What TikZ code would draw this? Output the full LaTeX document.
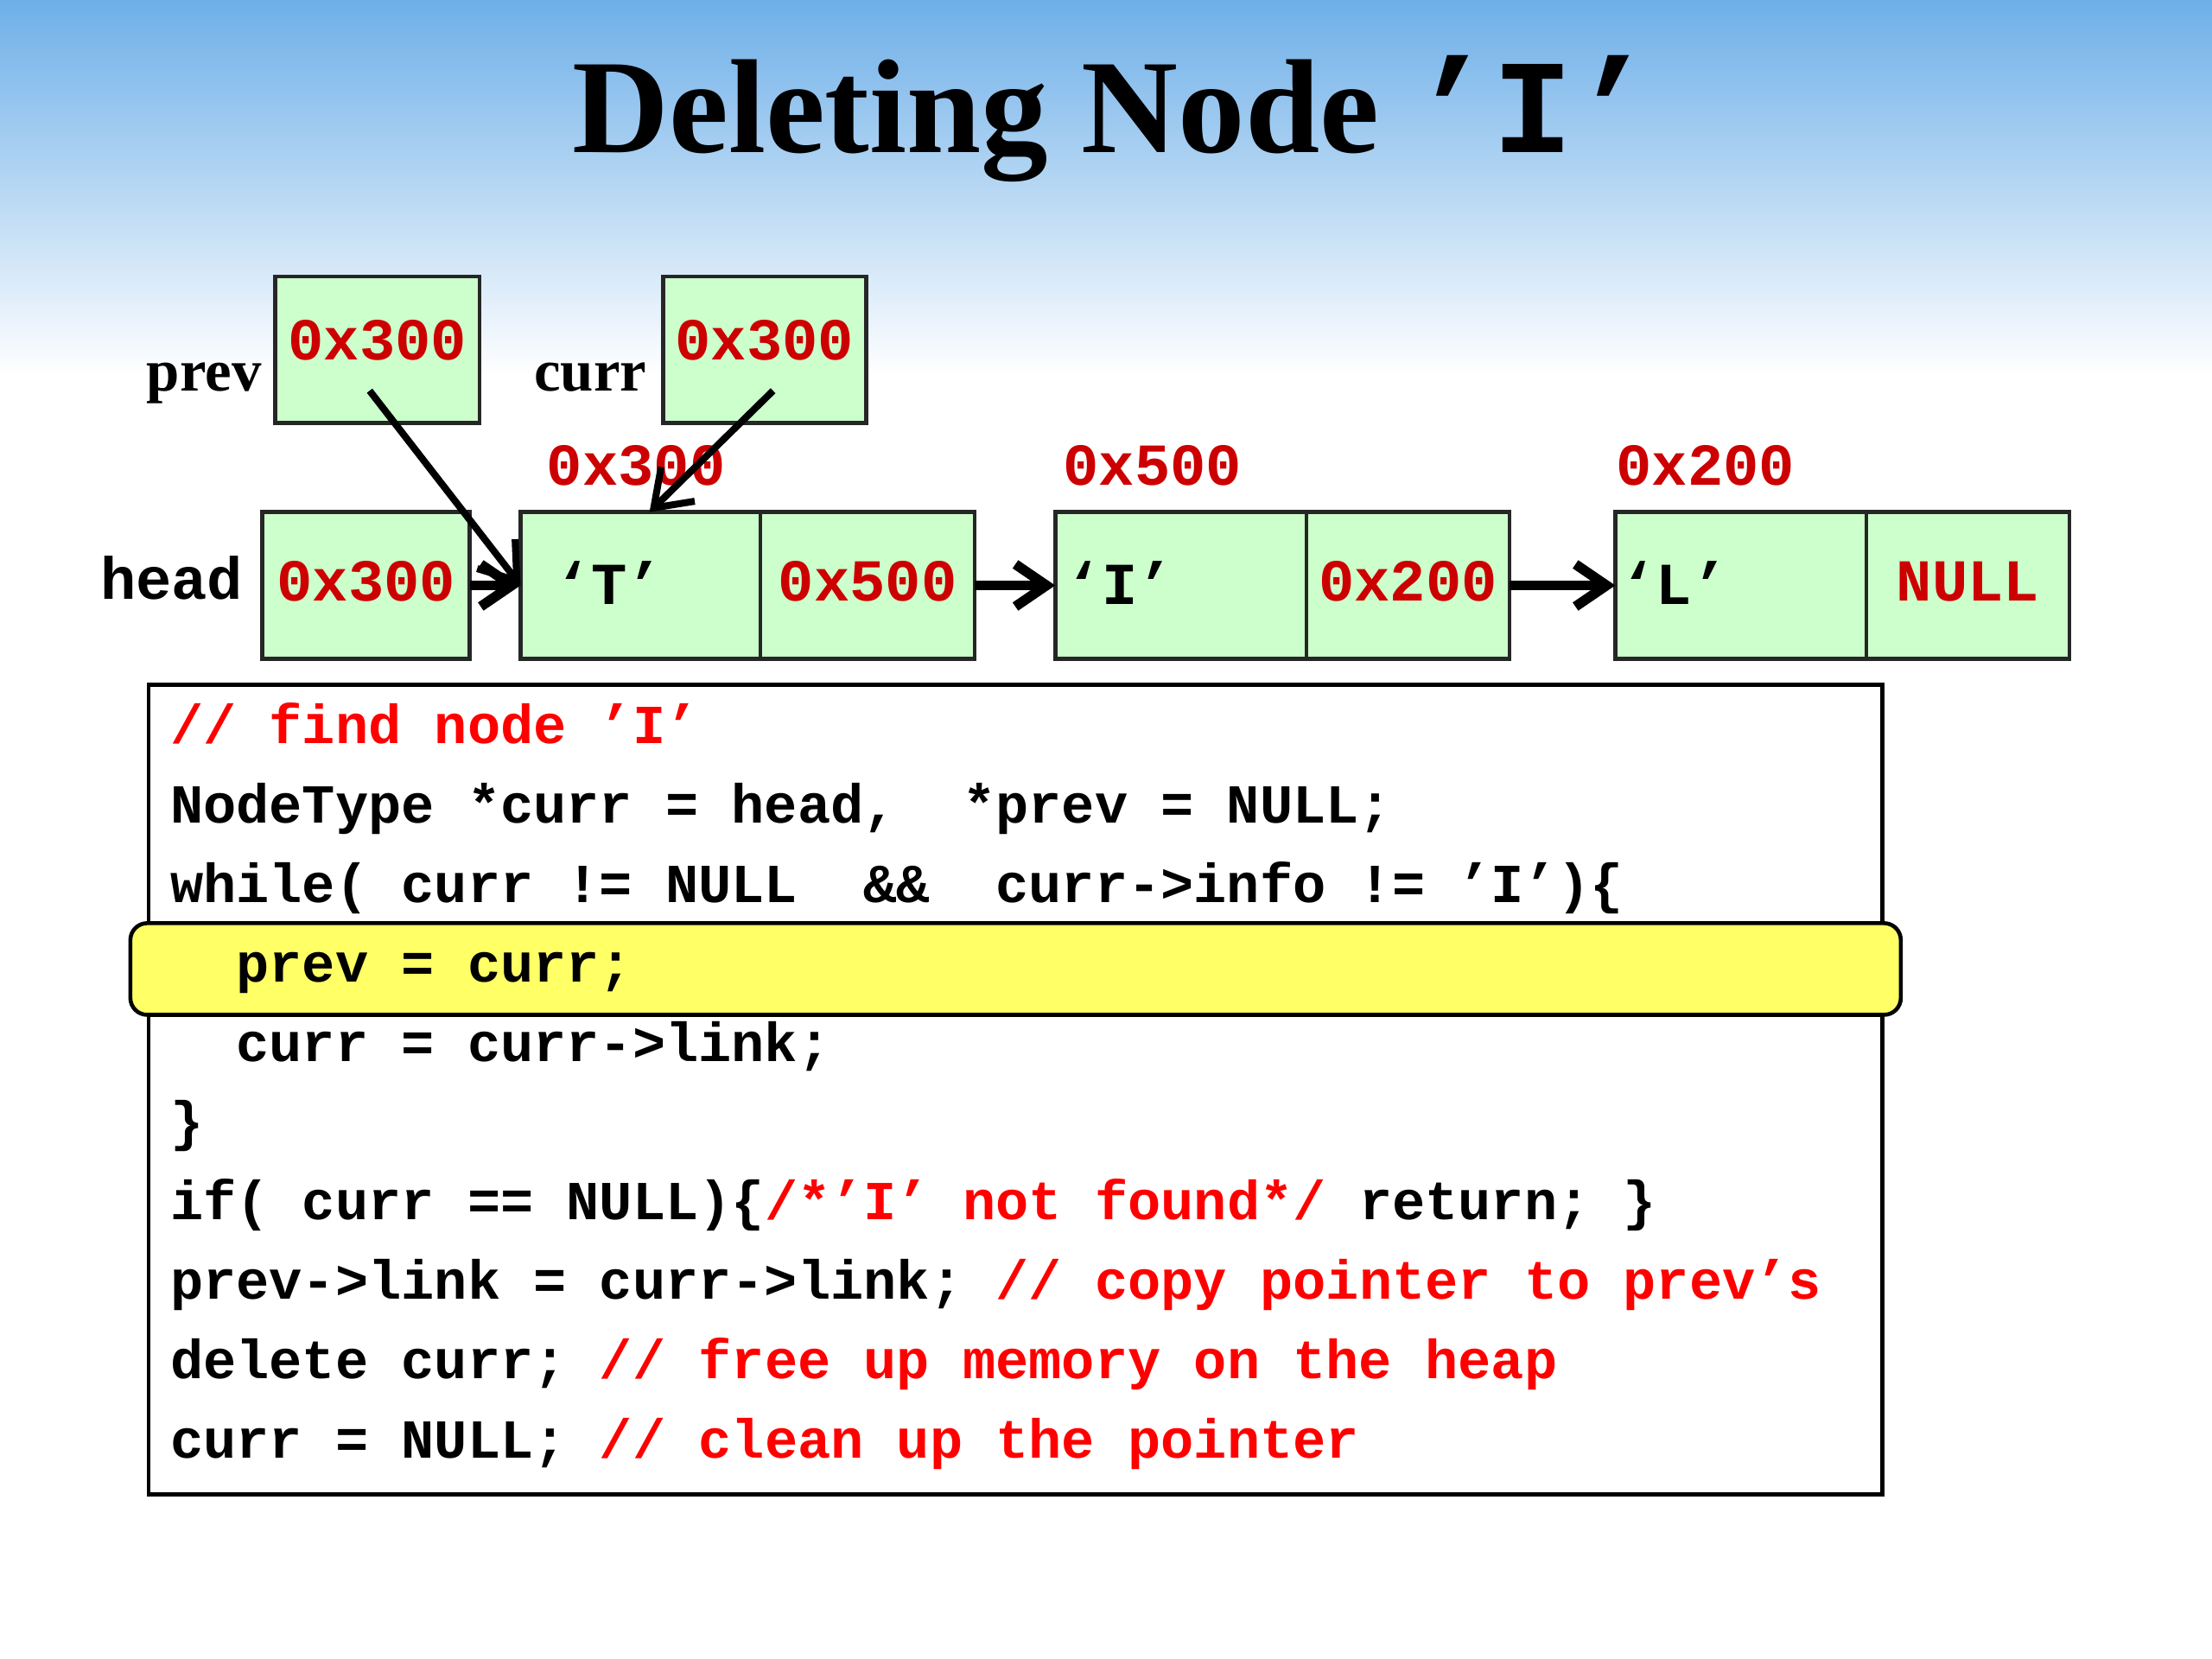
\documentclass[tikz,border=0pt]{standalone}
\usepackage{fontspec}
\setmainfont{Liberation Serif}
\setmonofont{Liberation Mono}
\usepackage{tikz}
\usetikzlibrary{arrows.meta}
\definecolor{bgblue}{HTML}{6EAFE8}
\definecolor{cellgreen}{HTML}{CCFFCC}
\definecolor{addrred}{HTML}{CC0000}
\definecolor{cmtred}{HTML}{FF0000}
\definecolor{hiyellow}{HTML}{FFFF66}
\newcommand{\cmt}[1]{\textcolor{cmtred}{#1}}
\tikzset{every node/.style={align=center},
    cell/.style={draw=black!85, line width=0.8pt, fill=cellgreen, minimum height=1.04cm, inner sep=0pt, outer sep=0pt, text depth=0.06cm, anchor=north west},
    addr/.style={font=\fontsize{12}{14}\selectfont\ttfamily\bfseries, text=addrred},
    val/.style={font=\fontsize{12}{14}\selectfont\ttfamily\bfseries, inner sep=0pt, anchor=west},
    varname/.style={font=\fontsize{12}{14}\selectfont\bfseries, inner sep=0pt, anchor=base east},
    codeline/.style={font=\fontsize{11.1}{14}\selectfont\ttfamily\bfseries\frenchspacing, inner sep=0pt, anchor=base west},
    nextarrow/.style={-{Straight Barb[length=2.2mm,width=3mm]}, line width=2pt},
    ptrarrow/.style={-{Straight Barb[length=2.4mm,width=3.4mm]}, line width=1.4pt}}

\begin{document}
\begin{tikzpicture}
        % \draw[help lines] (0,0) grid (16,12);
        \useasboundingbox (0,0) rectangle (15.68,11.76);
        \fill[white] (0,0) rectangle (15.68,11.76);
        \shade[top color=bgblue, bottom color=white] (0,9.1) rectangle (15.68,11.76);

        \node[anchor=base west, inner sep=0pt, font=\fontsize{27}{32}\selectfont\bfseries] (title) at (4.05,10.68) {Deleting Node {\ttfamily ’I’}};

        % pointer variables
        \node[varname] (prevname) at (1.86,8.99) {prev};
        \node[cell, minimum width=1.45cm, addr, text depth=0.14cm] (prevbox) at (1.95,9.80) {0x300};
        \node[varname] (currname) at (4.59,8.99) {curr};
        \node[cell, minimum width=1.44cm, addr, text depth=0.14cm] (currbox) at (4.70,9.80) {0x300};
        \node[varname, font=\fontsize{12}{14}\selectfont\ttfamily\bfseries] (headname) at (1.73,7.51) {head};
        \node[cell, minimum width=1.47cm, addr] (headbox) at (1.86,8.13) {0x300};

        % list nodes
        \node[addr, inner sep=0pt, anchor=west] (taddr) at (3.87,8.46) {0x300};
        \node[cell, minimum width=1.70cm] (tinfo) at (3.69,8.13) {};
        \node[cell, minimum width=1.52cm, addr] (tlink) at (5.39,8.13) {0x500};
        \node[val] (tval) at (3.93,7.63) {‘T’};

        \node[addr, inner sep=0pt, anchor=west] (iaddr) at (7.53,8.46) {0x500};
        \node[cell, minimum width=1.78cm] (iinfo) at (7.48,8.13) {};
        \node[cell, minimum width=1.44cm, addr] (ilink) at (9.26,8.13) {0x200};
        \node[val] (ival) at (7.55,7.63) {‘I’};

        \node[addr, inner sep=0pt, anchor=west] (laddr) at (11.45,8.46) {0x200};
        \node[cell, minimum width=1.78cm] (linfo) at (11.45,8.13) {};
        \node[cell, minimum width=1.44cm, addr] (llink) at (13.23,8.13) {NULL};
        \node[val] (lval) at (11.48,7.63) {‘L’};

        % links between nodes
        \draw[nextarrow] (headbox.east) -- (tinfo.west);
        \draw[nextarrow] (tlink.east) -- (iinfo.west);
        \draw[nextarrow] (ilink.east) -- (linfo.west);

        % prev and curr point to 'T'
        \coordinate (prevtail) at (2.62,8.99);
        \coordinate (currtail) at (5.48,8.99);
        \draw[ptrarrow] (prevtail) -- (tinfo.west);
        \draw[ptrarrow] (currtail) -- (tinfo.83);

        % code
        \node[draw, line width=0.8pt, minimum width=12.29cm, minimum height=5.74cm, inner sep=0pt, anchor=north west] (codebox) at (1.04,6.92) {};
        \node[draw, line width=0.8pt, fill=hiyellow, rounded corners=0.12cm, minimum width=12.55cm, minimum height=0.65cm, inner sep=0pt, anchor=north west] (highlight) at (0.91,5.23) {};

        \node[codeline] (code1) at (1.20,6.49) {\cmt{// find node ’I’}};
        \node[codeline] (code2) at (1.20,5.927) {NodeType *curr = head,\ \ *prev = NULL;};
        \node[codeline] (code3) at (1.20,5.364) {while( curr != NULL\ \ \&\&\ \ curr->info != ’I’)\{};
        \node[codeline] (code4) at (1.20,4.801) {\ \ prev = curr;};
        \node[codeline] (code5) at (1.20,4.238) {\ \ curr = curr->link;};
        \node[codeline] (code6) at (1.20,3.675) {\}};
        \node[codeline] (code7) at (1.20,3.112) {if( curr == NULL)\{\cmt{/*’I’ not found*/} return; \}};
        \node[codeline] (code8) at (1.20,2.549) {prev->link = curr->link; \cmt{// copy pointer to prev’s}};
        \node[codeline] (code9) at (1.20,1.986) {delete curr; \cmt{// free up memory on the heap}};
        \node[codeline] (code10) at (1.20,1.423) {curr = NULL; \cmt{// clean up the pointer}};

\end{tikzpicture}
\end{document}
